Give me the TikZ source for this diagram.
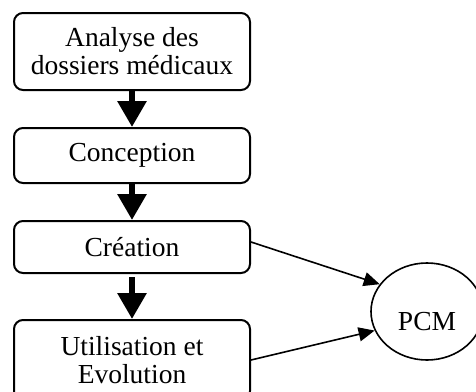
\documentclass[tikz,border=0pt]{standalone}
\usepackage{fontspec}
\setmainfont{Liberation Serif}
\usetikzlibrary{shapes.geometric,arrows.meta,positioning}

\begin{document}
\begin{tikzpicture}[x=0.5pt,y=-0.5pt,
  font=\fontsize{13.75}{14}\selectfont,
  box/.style={draw,line width=1pt,rounded corners=4.5pt,minimum width=118pt,
              align=center,inner sep=0pt},
  big/.style={-{Triangle[width=14pt,length=13pt]},line width=3pt},
  ar/.style={-{Triangle[width=7pt,length=8pt]},line width=0.8pt}]
\path[use as bounding box,clip] (0,0) rectangle (476,391);
\node[box,minimum height=38.5pt] (ana) at (132,51.5) {Analyse des\\dossiers médicaux};
\node[box,minimum height=27.5pt,below=18pt of ana] (con) {Conception};
\node[box,minimum height=26pt,below=18pt of con] (cre) {Création};
\node[box,minimum height=40pt,below=22.5pt of cre] (uti) {Utilisation et\\Evolution};
\node[draw,line width=0.8pt,ellipse,minimum width=56pt,minimum height=48.5pt,
      inner sep=0pt,text height=19pt] (pcm) at (427,311.5) {PCM};
\foreach \x/\y in {ana/con,con/cre} \draw[big] (\x) -- (\y);
\draw[big,shorten <=1.5pt] (cre) -- (uti);
\draw[ar] ([yshift=2.5pt]cre.east) -- (pcm.150);
\draw[ar] (uti.east) -- (pcm.200);
\end{tikzpicture}
\end{document}
